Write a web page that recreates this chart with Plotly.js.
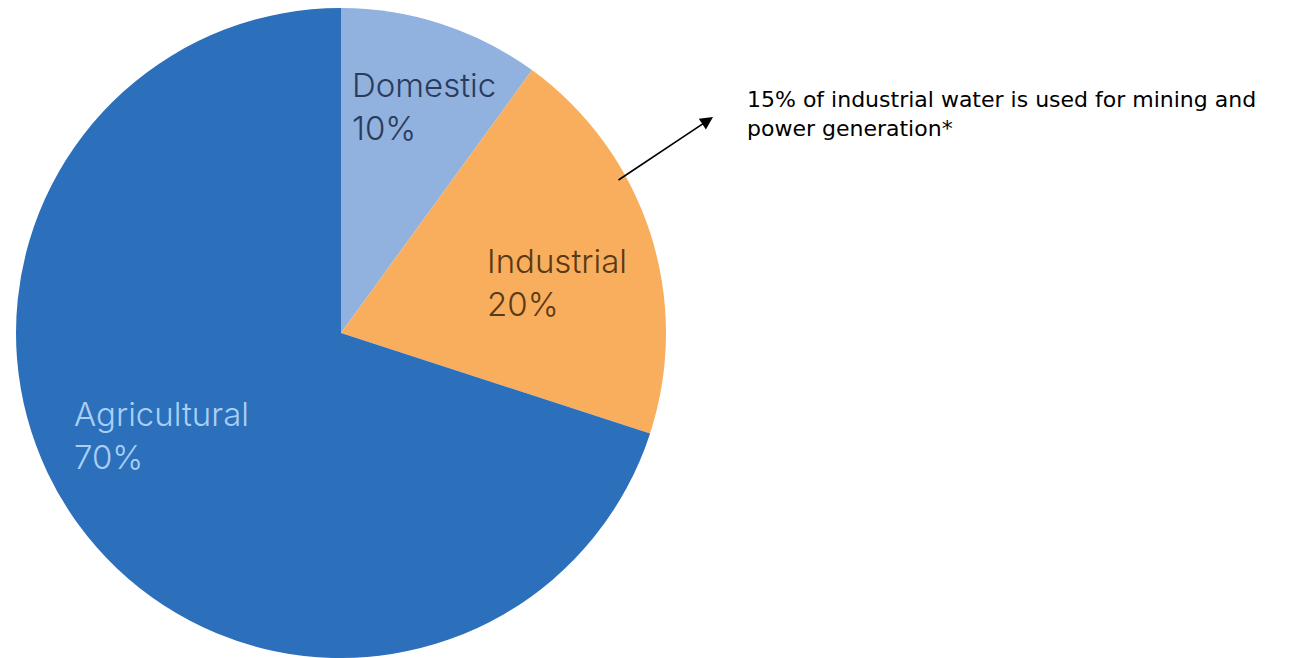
<!DOCTYPE html>
<html>
<head>
<meta charset="utf-8">
<script src="https://cdn.plot.ly/plotly-3.0.1.min.js"></script>
<style>html,body{margin:0;padding:0;background:#fff;}#chart{width:1312px;height:658px;}</style>
</head>
<body>
<div id="chart"></div>
<script>
const categories = ["Domestic", "Industrial", "Agricultural"];
const shares = [10, 20, 70];
const sliceColors = ["#91b1de", "#f9ae5e", "#2c6fbb"];
const labelColors = ["#2b3b5c", "#5a3a14", "#a9cff6"];
const noteLines = ["15% of industrial water is used for mining and", "power generation*"];

const W = 1312, H = 658;
const px = v => v / W;
const py = v => 1 - v / H;

// label block positions (left x, centre y) in pixels
const labelPos = [[350, 106], [485, 282], [72, 435]];

const annotations = categories.map((c, i) => ({
  xref: 'paper', yref: 'paper',
  x: px(labelPos[i][0]), y: py(labelPos[i][1]),
  xanchor: 'left', yanchor: 'middle', align: 'left',
  showarrow: false,
  text: c + '<br>' + shares[i] + '%',
  font: {family: 'Inter, Lato, sans-serif', size: 33, weight: 300, color: labelColors[i]}
}));

annotations.push({
  xref: 'paper', yref: 'paper', x: px(745), y: py(114),
  xanchor: 'left', yanchor: 'middle', align: 'left', showarrow: false,
  text: noteLines.join('<br>'),
  font: {family: '"DejaVu Sans", sans-serif', size: 22, color: '#000'}
});
annotations.push({
  xref: 'paper', yref: 'paper', x: px(713), y: py(117),
  text: '', showarrow: true, arrowhead: 2, arrowsize: 1.6, arrowwidth: 1.6,
  arrowcolor: '#000', ax: -96, ay: 64, standoff: 0
});

const data = [{
  type: 'pie',
  labels: categories,
  values: shares,
  sort: false,
  direction: 'clockwise',
  rotation: 0,
  marker: {colors: sliceColors, line: {width: 0}},
  textinfo: 'none',
  hoverinfo: 'label+percent',
  showlegend: false,
  domain: {x: [px(16), px(666)], y: [0, py(8)]}
}];

const layout = {
  width: W, height: H,
  margin: {l: 0, r: 0, t: 0, b: 0},
  paper_bgcolor: '#fff',
  showlegend: false,
  annotations: annotations
};

Plotly.newPlot('chart', data, layout, {displayModeBar: false, staticPlot: true});
</script>
</body>
</html>
